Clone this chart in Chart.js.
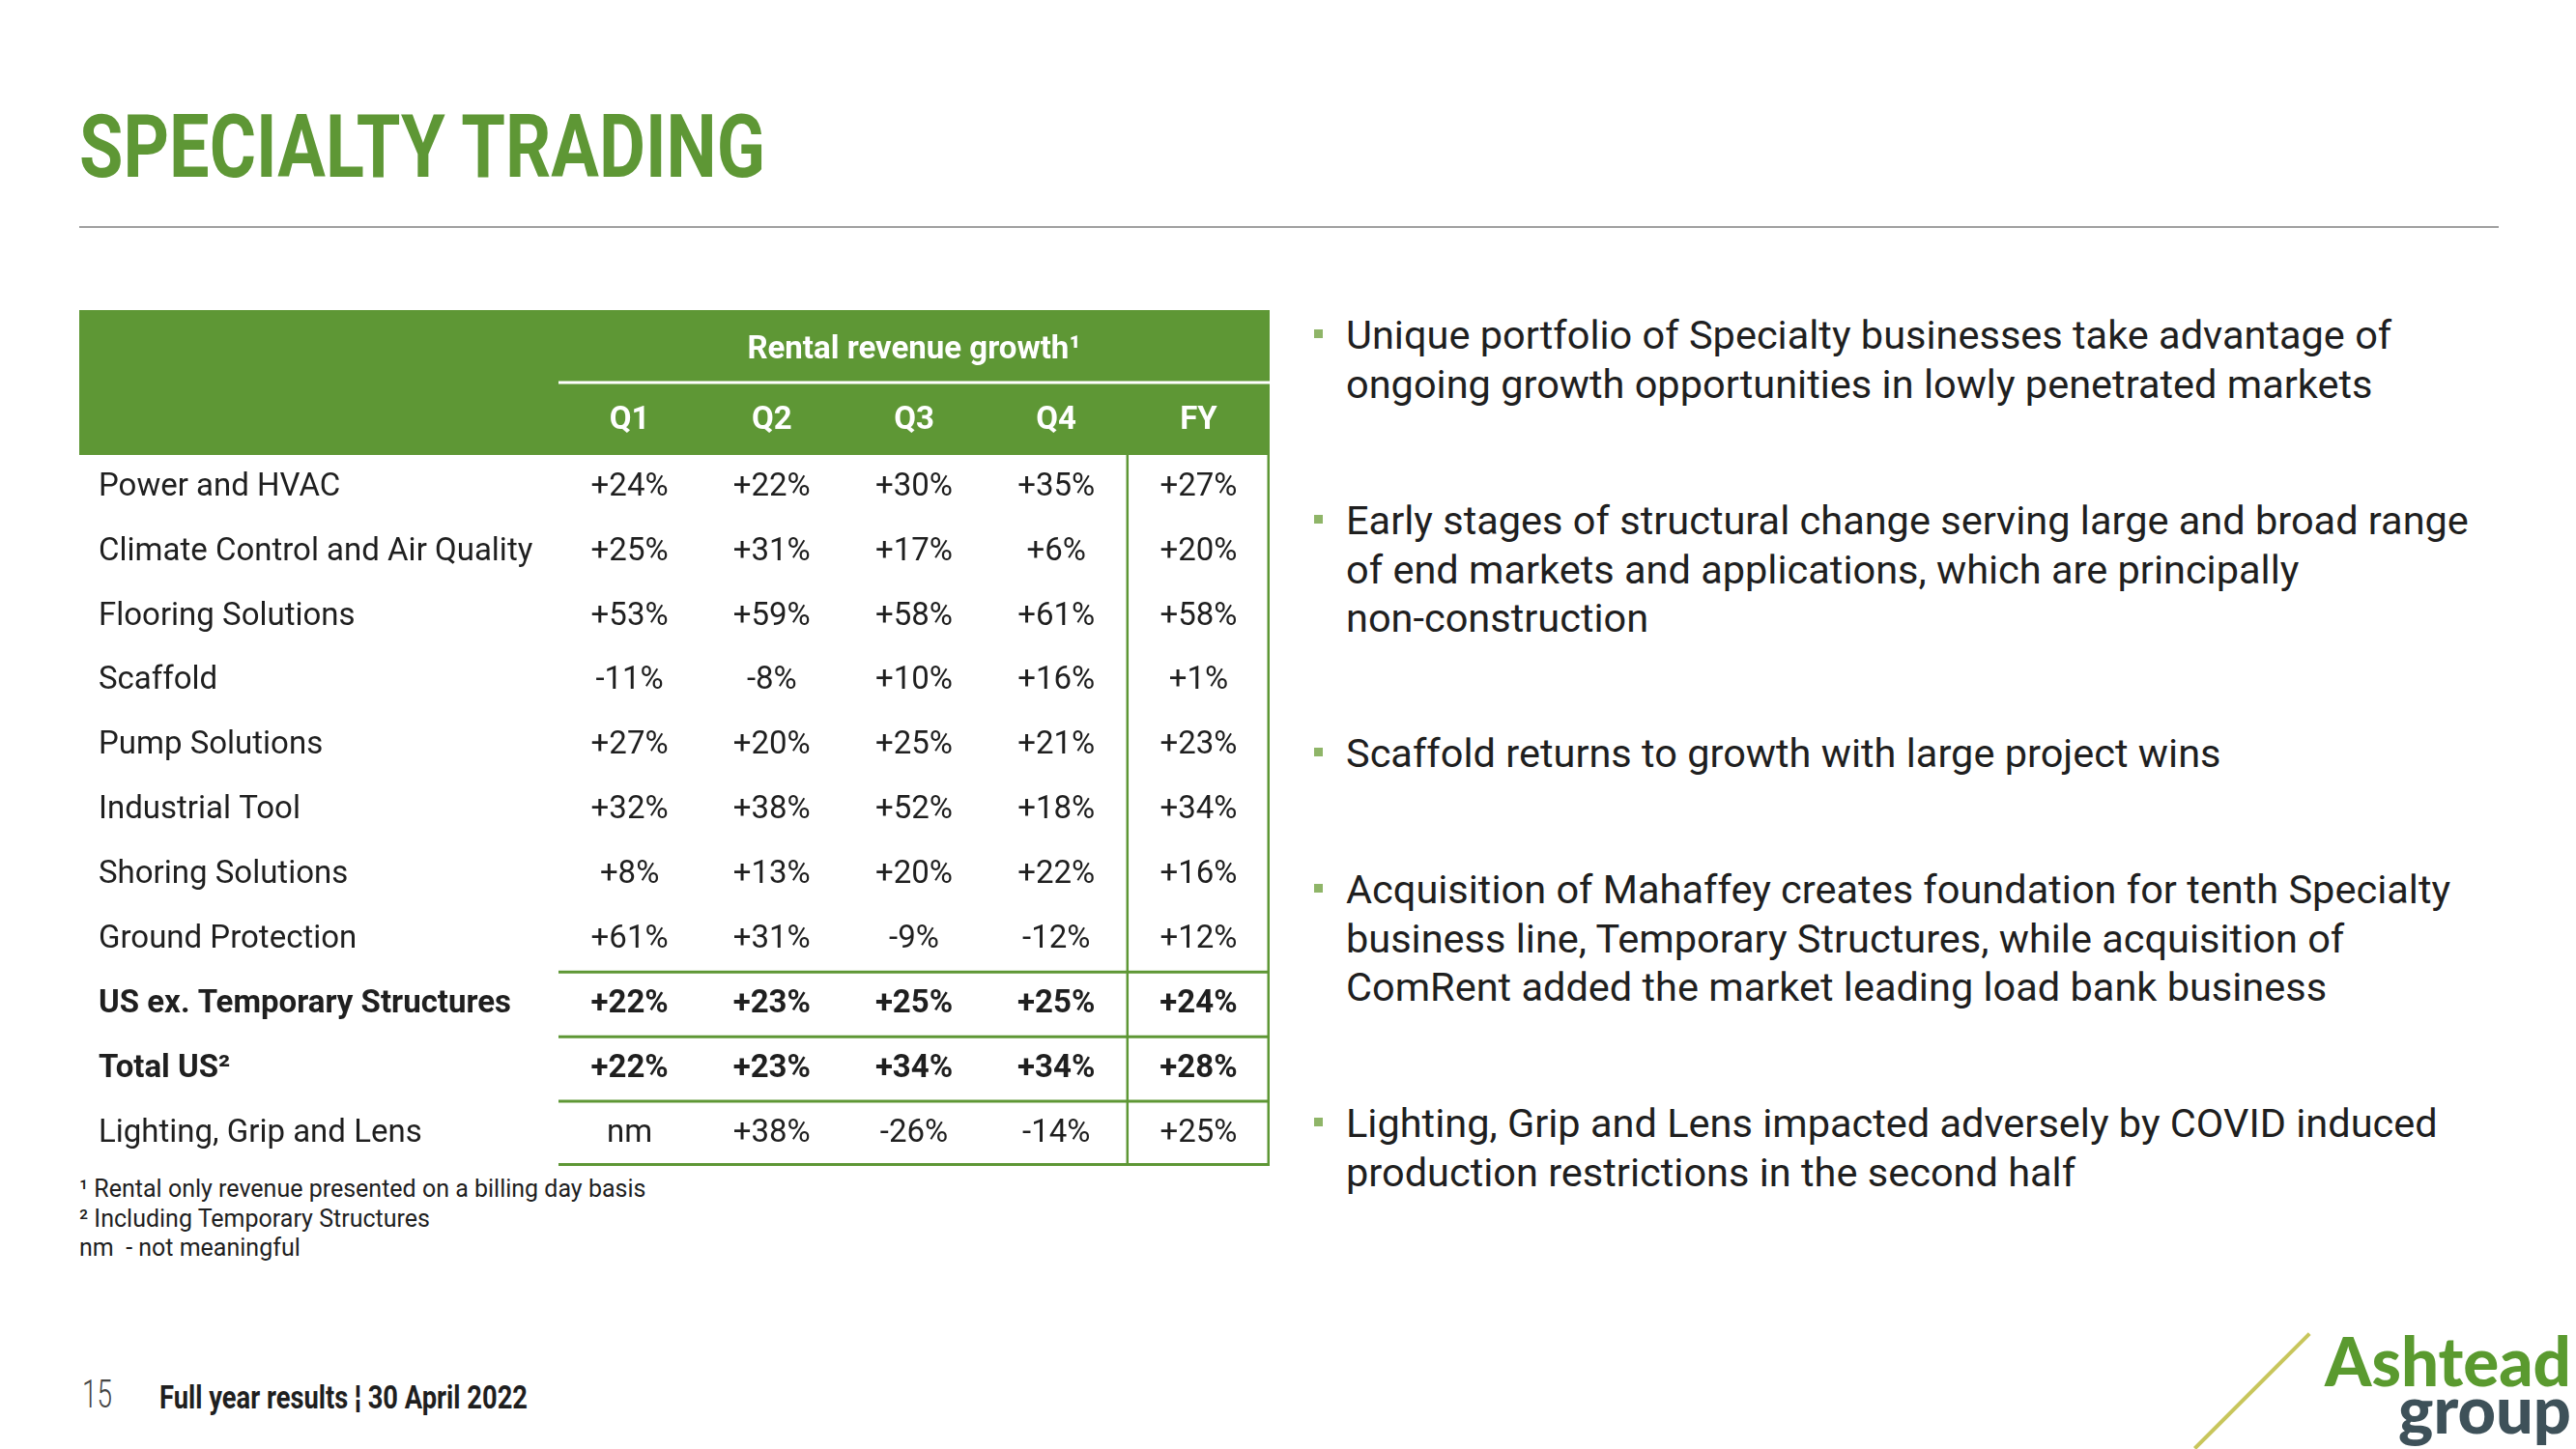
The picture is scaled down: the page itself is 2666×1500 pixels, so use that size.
<!DOCTYPE html>
<html>
<head>
<meta charset="utf-8">
<script src="https://cdn.jsdelivr.net/npm/chart.js@4.4.1/dist/chart.umd.min.js"></script>
<style>
  body { margin:0; width:2666px; height:1500px; background:#fff; overflow:hidden;
         font-family: Roboto, "Noto Sans", sans-serif; color:#1f1f1f; position:relative; }
  .abs { position:absolute; white-space:nowrap; transform-origin:0 50%; }
  #title { left:82px; top:107px; font-size:91px; line-height:91px; font-weight:700; color:#5e9735; }
  #rule { position:absolute; left:82px; top:234px; width:2504px; height:2px; background:#a0a0a0; }
  #growthTable { position:absolute; left:82px; top:321px; }
  .bullet { position:absolute; left:1393px; font-size:41.5px; line-height:50.5px; white-space:nowrap; }
  .bullet::before { content:""; position:absolute; left:-33px; top:19px; width:9px; height:9px; background:#8fb568; }
  #notes { left:82px; top:1216px; font-size:25px; line-height:30.5px; }
  #page { left:85px; top:1423px; font-size:41px; line-height:41px; font-weight:300; color:#444; }
  #foot { left:165px; top:1429px; font-size:34px; line-height:34px; font-weight:700; }
  #ash { left:2406px; top:1372px; font-size:71px; line-height:71px; font-family:Lato, Roboto, sans-serif; font-weight:900; color:#5a9a2f; }
  #grp { left:2482px; top:1424px; font-size:68px; line-height:68px; font-family:Lato, Roboto, sans-serif; font-weight:900; color:#3e5159; }
  #slash { position:absolute; left:2270px; top:1498px; width:168px; height:4px; background:#c8c65c;
           transform-origin:0 0; transform:rotate(-45deg); }
</style>
</head>
<body>
<div id="title" class="abs" data-w="710">SPECIALTY TRADING</div>
<div id="rule"></div>

<canvas id="growthTable" width="1232" height="890"></canvas>

<div class="bullet" style="top:322px">Unique portfolio of Specialty businesses take advantage of<br>ongoing growth opportunities in lowly penetrated markets</div>
<div class="bullet" style="top:514px">Early stages of structural change serving large and broad range<br>of end markets and applications, which are principally<br>non-construction</div>
<div class="bullet" style="top:755px">Scaffold returns to growth with large project wins</div>
<div class="bullet" style="top:896px">Acquisition of Mahaffey creates foundation for tenth Specialty<br>business line, Temporary Structures, while acquisition of<br>ComRent added the market leading load bank business</div>
<div class="bullet" style="top:1138px">Lighting, Grip and Lens impacted adversely by COVID induced<br>production restrictions in the second half</div>

<div id="notes" class="abs">¹ Rental only revenue presented on a billing day basis<br>² Including Temporary Structures<br>nm&nbsp; - not meaningful</div>

<div id="page" class="abs" data-w="31">15</div>
<div id="foot" class="abs" data-w="381">Full year results ¦ 30 April 2022</div>

<div id="slash"></div>
<div id="ash" class="abs" data-w="255">Ashtead</div>
<div id="grp" class="abs" data-w="179">group</div>

<script>
// rows and columns of the table
const rows = ["Power and HVAC", "Climate Control and Air Quality", "Flooring Solutions", "Scaffold",
              "Pump Solutions", "Industrial Tool", "Shoring Solutions", "Ground Protection",
              "US ex. Temporary Structures", "Total US²", "Lighting, Grip and Lens"];
const periods = ["Q1", "Q2", "Q3", "Q4", "FY"];

// rental revenue growth in %, null = not meaningful
const q1 = [24, 25, 53, -11, 27, 32, 8, 61, 22, 22, null];
const q2 = [22, 31, 59, -8, 20, 38, 13, 31, 23, 23, 38];
const q3 = [30, 17, 58, 10, 25, 52, 20, -9, 25, 34, -26];
const q4 = [35, 6, 61, 16, 21, 18, 22, -12, 25, 34, -14];
const fy = [27, 20, 58, 1, 23, 34, 16, 12, 24, 28, 25];
const series = [q1, q2, q3, q4, fy];

const boldRows = [8, 9];   // the two US totals
const GREEN = "#5e9735";
const INK = "#1f1f1f";

function fmt(v) {
    if (v === null) return "nm";
    return (v > 0 ? "+" : "") + v + "%";
}

const tableLines = {
    id: "tableLines",
    beforeDraw(chart) {
        const { ctx, chartArea: a, scales: { x } } = chart;
        ctx.save();
        ctx.fillStyle = GREEN;
        ctx.fillRect(0, x.top, x.right, x.bottom - x.top);
        const midY = x.top + (x.bottom - x.top) / 2;
        ctx.strokeStyle = "#fff";
        ctx.lineWidth = 3;
        ctx.beginPath();
        ctx.moveTo(a.left, midY);
        ctx.lineTo(a.right, midY);
        ctx.stroke();
        ctx.restore();
    },
    afterDatasetsDraw(chart) {
        const { ctx, chartArea: a, scales: { x, y } } = chart;
        ctx.save();

        // cell values
        ctx.fillStyle = INK;
        ctx.textAlign = "center";
        ctx.textBaseline = "middle";
        chart.data.datasets.forEach((ds, di) => {
            chart.getDatasetMeta(di).data.forEach((pt, i) => {
                ctx.font = (boldRows.includes(i) ? "bold " : "") + "33px Roboto";
                ctx.fillText(fmt(ds.data[i].v), pt.x, pt.y);
            });
        });

        // green rules under the last rows
        const band = y.getPixelForValue(1) - y.getPixelForValue(0);
        ctx.strokeStyle = GREEN;
        ctx.lineWidth = 3;
        [7, 8, 9, 10].forEach(i => {
            let yy = y.getPixelForValue(i) + band / 2;
            if (i === rows.length - 1) yy = a.bottom - 1.5;
            ctx.beginPath();
            ctx.moveTo(a.left, yy);
            ctx.lineTo(a.right, yy);
            ctx.stroke();
        });

        // box round the FY column
        const colW = x.getPixelForValue(1) - x.getPixelForValue(0);
        const fyLeft = x.getPixelForValue(4) - colW / 2;
        ctx.lineWidth = 2.5;
        [fyLeft, a.right - 1.25].forEach(xx => {
            ctx.beginPath();
            ctx.moveTo(xx, a.top);
            ctx.lineTo(xx, a.bottom);
            ctx.stroke();
        });
        ctx.restore();
    }
};

Chart.defaults.font.family = "Roboto";

new Chart("growthTable", {
    type: "scatter",
    data: {
        datasets: periods.map((p, di) => ({
            label: p,
            data: rows.map((r, i) => ({ x: p, y: r, v: series[di][i] })),
            pointRadius: 0
        }))
    },
    options: {
        responsive: false,
        devicePixelRatio: 1,
        animation: false,
        events: [],
        layout: { padding: { left: 20, top: 0, right: 0, bottom: 4 } },
        plugins: { legend: { display: false }, tooltip: { enabled: false } },
        scales: {
            x: {
                type: "category",
                position: "top",
                labels: periods,
                offset: true,
                grid: { display: false, drawTicks: false },
                border: { display: false },
                ticks: { color: "#fff", padding: 15, font: { size: 33, weight: "bold" } },
                title: {
                    display: true,
                    text: "Rental revenue growth¹",
                    color: "#fff",
                    font: { size: 33, weight: "bold" },
                    padding: { top: 22, bottom: 0 }
                },
                afterFit(s) { s.height = 150; }
            },
            y: {
                type: "category",
                labels: rows,
                offset: true,
                grid: { display: false, drawTicks: false },
                border: { display: false },
                ticks: {
                    color: INK,
                    crossAlign: "far",
                    autoSkip: false,
                    padding: 0,
                    font: (c) => ({ size: 33, weight: boldRows.includes(c.index) ? "bold" : "normal" })
                },
                // rows fill the whole body: no extra room kept for half labels
                afterFit(s) { s.width = 476; s.paddingTop = 0; s.paddingBottom = 0; }
            }
        }
    },
    plugins: [tableLines]
});

// squeeze the condensed-looking texts to their widths on the slide
document.querySelectorAll("[data-w]").forEach(el => {
    const w = el.getBoundingClientRect().width;
    el.style.transform = "scaleX(" + (el.dataset.w / w) + ")";
});
</script>
</body>
</html>
